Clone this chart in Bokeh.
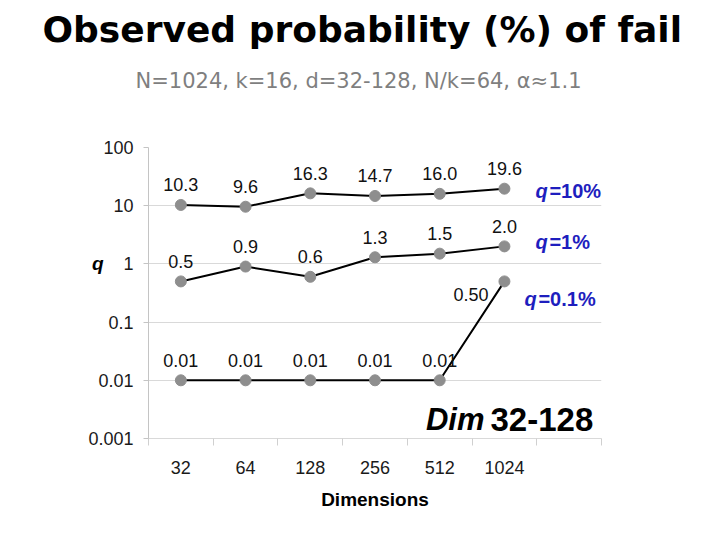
from bokeh.plotting import figure
from bokeh.models import Range1d, FixedTicker, CustomJSTickFormatter, Label, LogAxis, Title
from bokeh.embed import file_html
from bokeh.resources import INLINE
from bokeh.core.properties import value

# ---- data ----
dims = ["32", "64", "128", "256", "512", "1024"]
q10 = [10.3, 9.6, 16.3, 14.7, 16.0, 19.6]
q1 = [0.5, 0.9, 0.6, 1.3, 1.5, 2.0]
q01 = [0.01, 0.01, 0.01, 0.01, 0.01, 0.50]
series_names = ["=10%", "=1%", "=0.1%"]
y_ticks = [0.001, 0.01, 0.1, 1, 10, 100]

title_text = "Observed probability (%) of fail"
subtitle_text = "N=1024, k=16, d=32-128, N/k=64, \u03b1\u22481.1"
x_title = "Dimensions"
y_title = "q"

xs = [i + 0.5 for i in range(len(dims))]
n_slots = len(dims) + 1

ARIAL = "Liberation Sans"

p = figure(width=704, height=524, output_backend="svg", toolbar_location=None,
           x_range=Range1d(0, n_slots), y_range=Range1d(y_ticks[0], y_ticks[-1]),
           y_axis_type="log",
           min_border_left=148, min_border_right=103,
           min_border_top=147, min_border_bottom=86)
p.outline_line_color = None

# titles: spacer nearest the frame, then subtitle, main title outermost
p.add_layout(Title(text=" ", standoff=30, text_font_size="10px"), "above")
p.add_layout(Title(text=subtitle_text, align="left", offset=-13, standoff=23,
                   text_font="DejaVu Sans", text_font_style="normal",
                   text_font_size="21px", text_color="#7f7f7f"), "above")
p.title = Title(text=title_text, align="left", offset=-106, standoff=12,
                text_font="DejaVu Sans", text_font_style="bold",
                text_font_size="36px", text_color="black")

# x axis
p.xaxis.ticker = FixedTicker(ticks=xs, minor_ticks=list(range(n_slots + 1)))
p.xaxis.formatter = CustomJSTickFormatter(args=dict(labels=dims),
                                          code="return labels[Math.floor(tick)];")
p.xaxis.axis_line_color = "#d9d9d9"
p.xaxis.major_tick_line_color = None
p.xaxis.major_tick_out = 0
p.xaxis.major_tick_in = 0
p.xaxis.minor_tick_line_color = "#d0d0d0"
p.xaxis.minor_tick_out = 7
p.xaxis.minor_tick_in = 0
p.xaxis.major_label_standoff = 15
p.xaxis.major_label_text_font = ARIAL
p.xaxis.major_label_text_font_size = "18px"
p.xaxis.major_label_text_color = "#1a1a1a"
p.xaxis.axis_label = x_title
p.xaxis.axis_label_text_font = ARIAL
p.xaxis.axis_label_text_font_style = "bold"
p.xaxis.axis_label_text_font_size = "19px"
p.xaxis.axis_label_text_color = "black"
p.xaxis.axis_label_standoff = 12

# y axis
p.yaxis.ticker = FixedTicker(ticks=y_ticks, minor_ticks=[])
p.yaxis.formatter = CustomJSTickFormatter(
    code="return tick >= 1 ? tick.toFixed(0) : tick.toString();")
p.yaxis.axis_line_color = "#c4c4c4"
p.yaxis.major_tick_line_color = "#c4c4c4"
p.yaxis.major_tick_out = 5
p.yaxis.major_tick_in = 0
p.yaxis.minor_tick_line_color = None
p.yaxis.major_label_standoff = 10
p.yaxis.major_label_text_font = ARIAL
p.yaxis.major_label_text_font_size = "18px"
p.yaxis.major_label_text_color = "#1a1a1a"

# "q" axis title, drawn as a label-only axis at the y=1 level
qaxis = LogAxis(ticker=FixedTicker(ticks=[1], minor_ticks=[]),
                formatter=CustomJSTickFormatter(args=dict(name=y_title),
                                                code="return name;"),
                axis_line_color=None, major_tick_line_color=None,
                minor_tick_line_color=None, major_tick_out=0, major_tick_in=0,
                major_label_standoff=-18,
                major_label_text_font=ARIAL,
                major_label_text_font_style="bold italic",
                major_label_text_font_size="19px",
                major_label_text_color="black")
p.add_layout(qaxis, "left")

p.xgrid.visible = False
p.ygrid.ticker = FixedTicker(ticks=y_ticks, minor_ticks=[])
p.ygrid.grid_line_color = "#d9d9d9"
p.ygrid.grid_line_width = 1

# series
for vals in (q10, q1, q01):
    p.line(xs, vals, line_color="black", line_width=2)
    p.scatter(xs, vals, size=11, fill_color="#8e8e8e", line_color="#8e8e8e")

lab_style = dict(text_font=value(ARIAL), text_font_size="18px", text_color="#111111")
p.text(xs, q10, text=[f"{v:.1f}" for v in q10], text_align="center",
       text_baseline="middle", y_offset=-20, **lab_style)
p.text(xs, q1, text=[f"{v:.1f}" for v in q1], text_align="center",
       text_baseline="middle", y_offset=-20, **lab_style)
p.text(xs[:-1], q01[:-1], text=[f"{v:.2f}" for v in q01[:-1]], text_align="center",
       text_baseline="middle", y_offset=-20, **lab_style)
p.text(xs[-1:], q01[-1:], text=[f"{v:.2f}" for v in q01[-1:]], text_align="right",
       text_baseline="middle", x_offset=-16, y_offset=13, **lab_style)

# series name labels (blue)
BLUE = "#1e1ebe"
name_anchor = [(q10[-1], 31, -2), (q1[-1], 31, 4), (q01[-1], 20, -18)]
for name, (yv, dx, dy) in zip(series_names, name_anchor):
    p.add_layout(Label(x=xs[-1], y=yv, x_offset=dx, y_offset=dy, text="q",
                       text_align="left", text_baseline="middle",
                       text_font=ARIAL, text_font_style="bold italic",
                       text_font_size="20px", text_color=BLUE))
    p.add_layout(Label(x=xs[-1], y=yv, x_offset=dx + 14, y_offset=dy, text=name,
                       text_align="left", text_baseline="middle",
                       text_font=ARIAL, text_font_style="bold",
                       text_font_size="20px", text_color=BLUE))

# "Dim 32-128"
p.add_layout(Label(x=336, y=19, x_units="screen", y_units="screen", text="Dim",
                   text_align="right", text_baseline="alphabetic",
                   text_font=ARIAL, text_font_style="bold italic",
                   text_font_size="31px", text_color="black"))
p.add_layout(Label(x=342, y=19, x_units="screen", y_units="screen", text="32-128",
                   text_align="left", text_baseline="alphabetic",
                   text_font=ARIAL, text_font_style="bold",
                   text_font_size="33px", text_color="black"))

open("out.html", "w").write(file_html(p, INLINE))
